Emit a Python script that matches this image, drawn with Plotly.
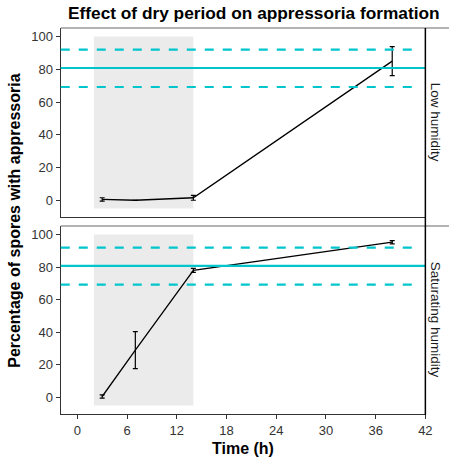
import numpy as np
import plotly.graph_objects as go

# ---- data ----
time_h = [3, 7, 14, 38]
low_mean = [0.5, 0.0, 1.5, 85.0]
low_err = [1.0, np.nan, 1.5, 8.9]
sat_mean = [0.5, 29.0, 78.0, 95.3]
sat_err = [1.0, 11.4, 1.2, 1.0]
panels = ["Low humidity", "Saturating humidity"]
ref_mean = 80.8
ref_upper = 92.0
ref_lower = 69.2
dry_start, dry_end = 2, 14
dry_ymin, dry_ymax = -5, 100
x_ticks = [0, 6, 12, 18, 24, 30, 36, 42]
y_ticks = [0, 20, 40, 60, 80, 100]

W, H = 456, 458
px_x = lambda p: p / W
px_y = lambda p: 1 - p / H

x_dom = [px_x(61.7), px_x(432)]
top_dom = [px_y(217), px_y(28)]
bot_dom = [px_y(414), px_y(226)]

CYAN = "#00C5CC"
FONT = "Liberation Sans, Arial, sans-serif"

fig = go.Figure()
for i, (means, errs) in enumerate([(low_mean, low_err), (sat_mean, sat_err)]):
    xa = "x" if i == 0 else "x2"
    ya = "y" if i == 0 else "y2"
    fig.add_trace(go.Scatter(
        x=time_h, y=means, mode="lines", xaxis=xa, yaxis=ya,
        line=dict(color="black", width=1.3),
        error_y=dict(type="data", array=errs, visible=True, color="black",
                     thickness=1.2, width=2.5),
        showlegend=False))

shapes = []
for ya in ["y", "y2"]:
    xa = "x" if ya == "y" else "x2"
    shapes.append(dict(type="rect", xref=xa, yref=ya, x0=dry_start, x1=dry_end,
                       y0=dry_ymin, y1=dry_ymax, fillcolor="#EBEBEB",
                       line=dict(width=0), layer="below"))
    shapes.append(dict(type="line", xref=xa + " domain", yref=ya, x0=0, x1=1,
                       y0=ref_mean, y1=ref_mean, line=dict(color=CYAN, width=2.2)))
    for v in [ref_upper, ref_lower]:
        shapes.append(dict(type="line", xref=xa + " domain", yref=ya, x0=0, x1=0.985,
                           y0=v, y1=v, line=dict(color=CYAN, width=2.2, dash="9px,9px")))

# panel top borders (grey) and strip separator (black)
for ytop in [28, 226]:
    shapes.append(dict(type="line", xref="paper", yref="paper", x0=px_x(61.7), x1=1.0,
                       y0=px_y(ytop), y1=px_y(ytop), line=dict(color="#9a9a9a", width=1.3)))
shapes.append(dict(type="line", xref="paper", yref="paper", x0=px_x(432), x1=px_x(432),
                   y0=px_y(415), y1=px_y(28), line=dict(color="black", width=1.5)))

annotations = [
    dict(text="<b>Effect of dry period on appressoria formation</b>", xref="paper", yref="paper",
         x=px_x(258), y=px_y(13), showarrow=False, font=dict(size=17.3, color="black", family=FONT),
         xanchor="center", yanchor="middle"),
    dict(text="<b>Time (h)</b>", xref="paper", yref="paper", x=px_x(247), y=px_y(448),
         showarrow=False, font=dict(size=16, color="black", family=FONT),
         xanchor="center", yanchor="middle"),
    dict(text="<b>Percentage of spores with appressoria</b>", xref="paper", yref="paper",
         x=px_x(15), y=px_y(221), showarrow=False, textangle=-90,
         font=dict(size=16, color="black", family=FONT), xanchor="center", yanchor="middle"),
]
for lab, yc in zip(panels, [122, 320]):
    annotations.append(dict(text=lab, xref="paper", yref="paper", x=px_x(443), y=px_y(yc),
                            showarrow=False, textangle=90,
                            font=dict(size=13.5, color="#1a1a1a", family=FONT),
                            xanchor="center", yanchor="middle"))

axis_common = dict(showgrid=False, zeroline=False, showline=True, linecolor="#333333",
                   linewidth=1.3, tickfont=dict(size=13, color="#333333", family=FONT))

fig.update_layout(
    width=W, height=H, margin=dict(l=0, r=0, t=0, b=0),
    paper_bgcolor="white", plot_bgcolor="white",
    xaxis=dict(domain=x_dom, anchor="y", range=[-2, 42], showticklabels=False, ticks="",
               tickvals=x_ticks, **axis_common),
    yaxis=dict(domain=top_dom, anchor="x", range=[-10.25, 105.25], tickvals=y_ticks,
               ticks="outside", ticklen=4, tickcolor="#333333", **axis_common),
    xaxis2=dict(domain=x_dom, anchor="y2", range=[-2, 42], tickvals=x_ticks,
                ticks="outside", ticklen=4, tickcolor="#333333", **axis_common),
    yaxis2=dict(domain=bot_dom, anchor="x2", range=[-10.25, 105.25], tickvals=y_ticks,
                ticks="outside", ticklen=4, tickcolor="#333333", **axis_common),
    shapes=shapes, annotations=annotations,
)

fig.write_html(
    "out.html",
    config={"displayModeBar": False},
    post_script="document.documentElement.style.overflow='hidden';"
                "document.body.style.margin='0';document.body.style.overflow='hidden';",
)
